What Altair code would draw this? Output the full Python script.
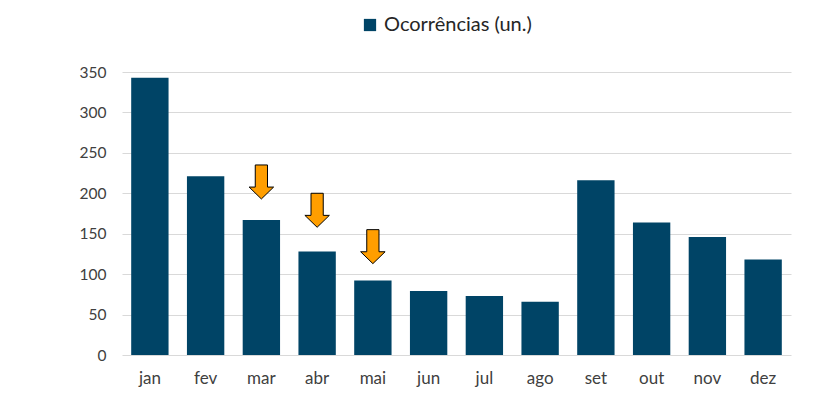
import altair as alt
import pandas as pd

months = ["jan", "fev", "mar", "abr", "mai", "jun", "jul", "ago", "set", "out", "nov", "dez"]
ocorrencias = [343, 221, 167, 128, 92, 79, 73, 66, 216, 164, 146, 118]

arrow_months = ["mar", "abr", "mai"]
arrow_y = [214, 179, 134]

series_name = "Ocorrências (un.)"
bar_color = "#004466"
arrow_color = "#FF9E00"
font = "Lato"

df = pd.DataFrame({"mes": months, "valor": ocorrencias, "serie": series_name})
df_arrows = pd.DataFrame({"mes": arrow_months, "y": arrow_y})

arrow_path = "M -0.36 -1 L 0.36 -1 L 0.36 0.3 L 0.72 0.3 L 0 1 L -0.72 0.3 L -0.36 0.3 Z"

x_enc = alt.X(
    "mes:N",
    sort=months,
    scale=alt.Scale(paddingInner=0.33, paddingOuter=0.165),
    axis=alt.Axis(title=None, labelAngle=0, ticks=False, domain=False, labelPadding=15,
                  labelFontSize=17, labelColor="#404040", labelFont=font),
)

bars = alt.Chart(df).mark_bar(color=bar_color).encode(
    x=x_enc,
    y=alt.Y("valor:Q", scale=alt.Scale(domain=[0, 350], nice=False),
            axis=alt.Axis(title=None, values=[0, 50, 100, 150, 200, 250, 300, 350],
                          ticks=False, domain=False, labelPadding=16, labelFontSize=15.5,
                          labelColor="#404040", labelFont=font,
                          gridColor="#d9d9d9", gridWidth=1)),
    color=alt.Color("serie:N", scale=alt.Scale(domain=[series_name], range=[bar_color]),
                    legend=alt.Legend(title=None, orient="none", legendX=238, legendY=-57,
                                      symbolType="square", symbolSize=150, symbolStrokeWidth=0,
                                      labelFontSize=20, labelFont=font, labelColor="#262626",
                                      labelOffset=4, padding=0)),
)

arrows = alt.Chart(df_arrows).mark_point(
    shape=arrow_path, filled=True, fill=arrow_color, stroke="black", strokeWidth=1,
    size=1156, opacity=1,
).encode(
    x=alt.X("mes:N", sort=months),
    y=alt.Y("y:Q"),
)

chart = alt.layer(bars, arrows).properties(
    width=669, height=283,
    autosize=alt.AutoSizeParams(type="none"),
    padding={"left": 114, "top": 64, "right": 10, "bottom": 45},
).configure_view(stroke=None)

chart.save("out.html", embed_options={"renderer": "svg", "actions": False})
